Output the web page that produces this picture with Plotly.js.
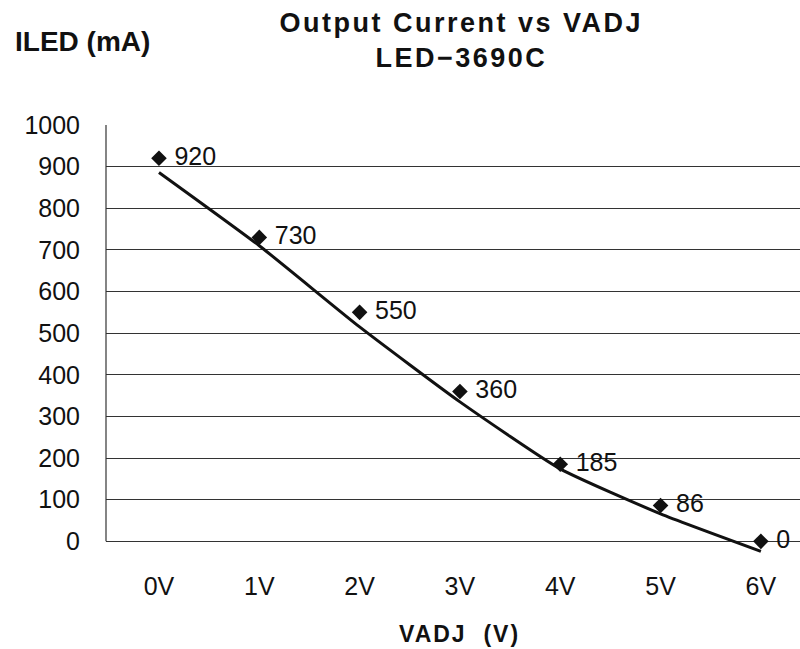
<!DOCTYPE html>
<html>
<head>
<meta charset="utf-8">
<script src="https://cdn.plot.ly/plotly-3.0.1.min.js"></script>
<style>html,body{margin:0;padding:0;background:#fff;}#chart{width:800px;height:649px;}</style>
</head>
<body>
<div id="chart"></div>
<script>
// Data
var voltages = [0, 1, 2, 3, 4, 5, 6];
var tickLabels = ['0V', '1V', '2V', '3V', '4V', '5V', '6V'];
var currents = [920, 730, 550, 360, 185, 86, 0];
var pointLabels = ['920', '730', '550', '360', '185', '86', '0'];
var trendValues = [886, 710, 515, 335, 174, 66, -24];
var yTicks = [0, 100, 200, 300, 400, 500, 600, 700, 800, 900, 1000];

var FONT = '"Liberation Sans", Arial, Helvetica, sans-serif';

var trend = {
  x: voltages,
  y: trendValues,
  type: 'scatter',
  mode: 'lines',
  line: {color: '#111', width: 3, shape: 'spline', smoothing: 0.5},
  hoverinfo: 'skip',
  showlegend: false
};

var points = {
  x: voltages,
  y: currents,
  type: 'scatter',
  mode: 'markers+text',
  marker: {symbol: 'diamond', size: 12, color: '#111'},
  text: pointLabels.map(function (s) { return '\u00a0' + s; }),
  textposition: 'middle right',
  textfont: {family: FONT, size: 25, color: '#111'},
  cliponaxis: false,
  showlegend: false
};

var layout = {
  width: 800,
  height: 649,
  margin: {l: 106, r: 0, t: 124.5, b: 96.3, pad: 0},
  paper_bgcolor: '#fff',
  plot_bgcolor: '#fff',
  showlegend: false,
  title: {
    text: '<span style="letter-spacing:2.5px">Output Current vs VADJ</span><br><span style="letter-spacing:2.5px">LED\u22123690C</span>',
    font: {family: FONT, size: 27, color: '#111', weight: 'bold'},
    x: 0.512, xanchor: 'center',
    y: 0.951, yanchor: 'top',
    xref: 'paper', yref: 'container'
  },
  xaxis: {
    range: [-0.528, 6.39],
    tickmode: 'array',
    tickvals: voltages,
    ticktext: tickLabels,
    showgrid: false,
    zeroline: false,
    showline: false,
    ticks: '',
    ticklabelstandoff: 16,
    tickfont: {family: FONT, size: 25, color: '#111'},
    fixedrange: true
  },
  yaxis: {
    range: [-28, 1000],
    tickmode: 'array',
    tickvals: yTicks,
    showgrid: true,
    gridcolor: '#333',
    gridwidth: 1,
    zeroline: true,
    zerolinecolor: '#333',
    zerolinewidth: 1,
    showline: false,
    ticks: '',
    ticklabelstandoff: 25,
    tickfont: {family: FONT, size: 25, color: '#111'},
    fixedrange: true
  },
  shapes: [{
    type: 'line', xref: 'paper', yref: 'y',
    x0: 0, x1: 0, y0: 0, y1: 1000,
    line: {color: '#333', width: 1.2}
  }],
  annotations: [
    {
      text: 'ILED (mA)', xref: 'paper', yref: 'paper',
      x: -0.134, y: 1.195, xanchor: 'left', yanchor: 'middle',
      showarrow: false,
      font: {family: FONT, size: 28, color: '#111', weight: 'bold'}
    },
    {
      text: '<span style="letter-spacing:2px">VADJ  (V)</span>', xref: 'paper', yref: 'paper',
      x: 0.51, y: -0.19, xanchor: 'center', yanchor: 'middle',
      showarrow: false,
      font: {family: FONT, size: 23, color: '#111', weight: 'bold'}
    }
  ]
};

Plotly.newPlot('chart', [trend, points], layout, {displayModeBar: false, staticPlot: true});
</script>
</body>
</html>
